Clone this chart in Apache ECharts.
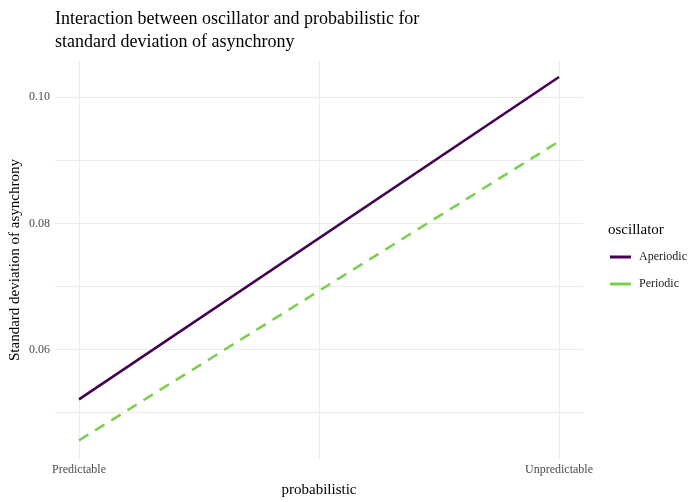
<!DOCTYPE html>
<html>
<head>
<meta charset="utf-8">
<script src="https://cdn.jsdelivr.net/npm/echarts@6/dist/echarts.min.js"></script>
<style>
  html, body { margin: 0; padding: 0; background: #fff; }
  #chart { width: 699px; height: 502px; }
</style>
</head>
<body>
<div id="chart"></div>
<script>
// Estimated marginal means of asynchrony SD by probabilistic condition
const categories = ['Predictable', 'Unpredictable'];
const seriesNames = ['Aperiodic', 'Periodic'];
const aperiodic = [0.0521, 0.1032];
const periodic = [0.0456, 0.0930];
const yTickLabels = [0.06, 0.08, 0.10];

const FONT = '"Liberation Serif", "DejaVu Serif", serif';
const GRID = '#ebebeb';
const COLORS = ['#440154', '#7AD151'];

// categories sit at x = 0 and x = 1 on a continuous axis
const toPoints = vals => vals.map((v, i) => [i, v]);

const chart = echarts.init(document.getElementById('chart'), null, { renderer: 'canvas' });

// x ticks every 0.05 from -0.05: grid lines only at 0, 0.5 and 1
const xLineColors = Array(10).fill('transparent');
xLineColors[1] = GRID;
// y ticks every 0.0025 from 0.0425: grid lines at 0.05, 0.06, ... 0.10
const yLineColors = ['transparent', 'transparent', 'transparent', GRID];

const near = (a, b) => Math.abs(a - b) < 1e-7;

chart.setOption({
  animation: false,
  backgroundColor: '#ffffff',
  textStyle: { fontFamily: FONT },
  title: [
    {
      text: 'Interaction between oscillator and probabilistic for\nstandard deviation of asynchrony',
      left: 50, top: 3,
      textStyle: { fontFamily: FONT, fontSize: 18, fontWeight: 'normal', color: '#000', lineHeight: 23 }
    },
    {
      text: 'oscillator',
      left: 603, top: 218,
      textStyle: { fontFamily: FONT, fontSize: 15, fontWeight: 'normal', color: '#000' }
    }
  ],
  legend: {
    orient: 'vertical',
    left: 605, top: 246,
    itemWidth: 21, itemHeight: 3, itemGap: 15,
    icon: 'rect',
    data: seriesNames.map((n, i) => ({ name: n, itemStyle: { color: COLORS[i] } })),
    textStyle: { fontFamily: FONT, fontSize: 12, color: '#1a1a1a', padding: [0, 0, 0, 3] }
  },
  grid: { left: 55, right: 116, top: 60, bottom: 42, containLabel: false, outerBoundsMode: 'none' },
  xAxis: {
    type: 'value',
    min: -0.05, max: 1.05, interval: 0.05,
    name: 'probabilistic',
    nameLocation: 'middle',
    nameGap: 23,
    nameMoveOverlap: false,
    nameTextStyle: { fontFamily: FONT, fontSize: 15, color: '#000' },
    axisLine: { show: false },
    axisTick: { show: false },
    axisLabel: {
      margin: 4,
      fontFamily: FONT, fontSize: 12, color: '#4d4d4d',
      showMinLabel: true, showMaxLabel: true,
      formatter: v => {
        for (let i = 0; i < categories.length; i++) if (near(v, i)) return categories[i];
        return '';
      }
    },
    splitLine: { show: true, lineStyle: { color: xLineColors, width: 1 } }
  },
  yAxis: {
    type: 'value',
    min: 0.0425, max: 0.1059, interval: 0.0025,
    name: 'Standard deviation of asynchrony',
    nameLocation: 'middle',
    nameGap: 32,
    nameMoveOverlap: false,
    nameTextStyle: { fontFamily: FONT, fontSize: 15, color: '#000' },
    axisLine: { show: false },
    axisTick: { show: false },
    axisLabel: {
      margin: 5,
      fontFamily: FONT, fontSize: 12, color: '#4d4d4d',
      formatter: v => {
        for (const t of yTickLabels) if (near(v, t)) return t.toFixed(2);
        return '';
      }
    },
    splitLine: { show: true, lineStyle: { color: yLineColors, width: 1 } }
  },
  series: [
    {
      name: seriesNames[0], type: 'line',
      data: toPoints(aperiodic),
      symbol: 'none',
      color: COLORS[0],
      lineStyle: { color: COLORS[0], width: 2.6, type: 'solid' }
    },
    {
      name: seriesNames[1], type: 'line',
      data: toPoints(periodic),
      symbol: 'none',
      color: COLORS[1],
      lineStyle: { color: COLORS[1], width: 2.6, type: [11, 8] }
    }
  ]
});
</script>
</body>
</html>
